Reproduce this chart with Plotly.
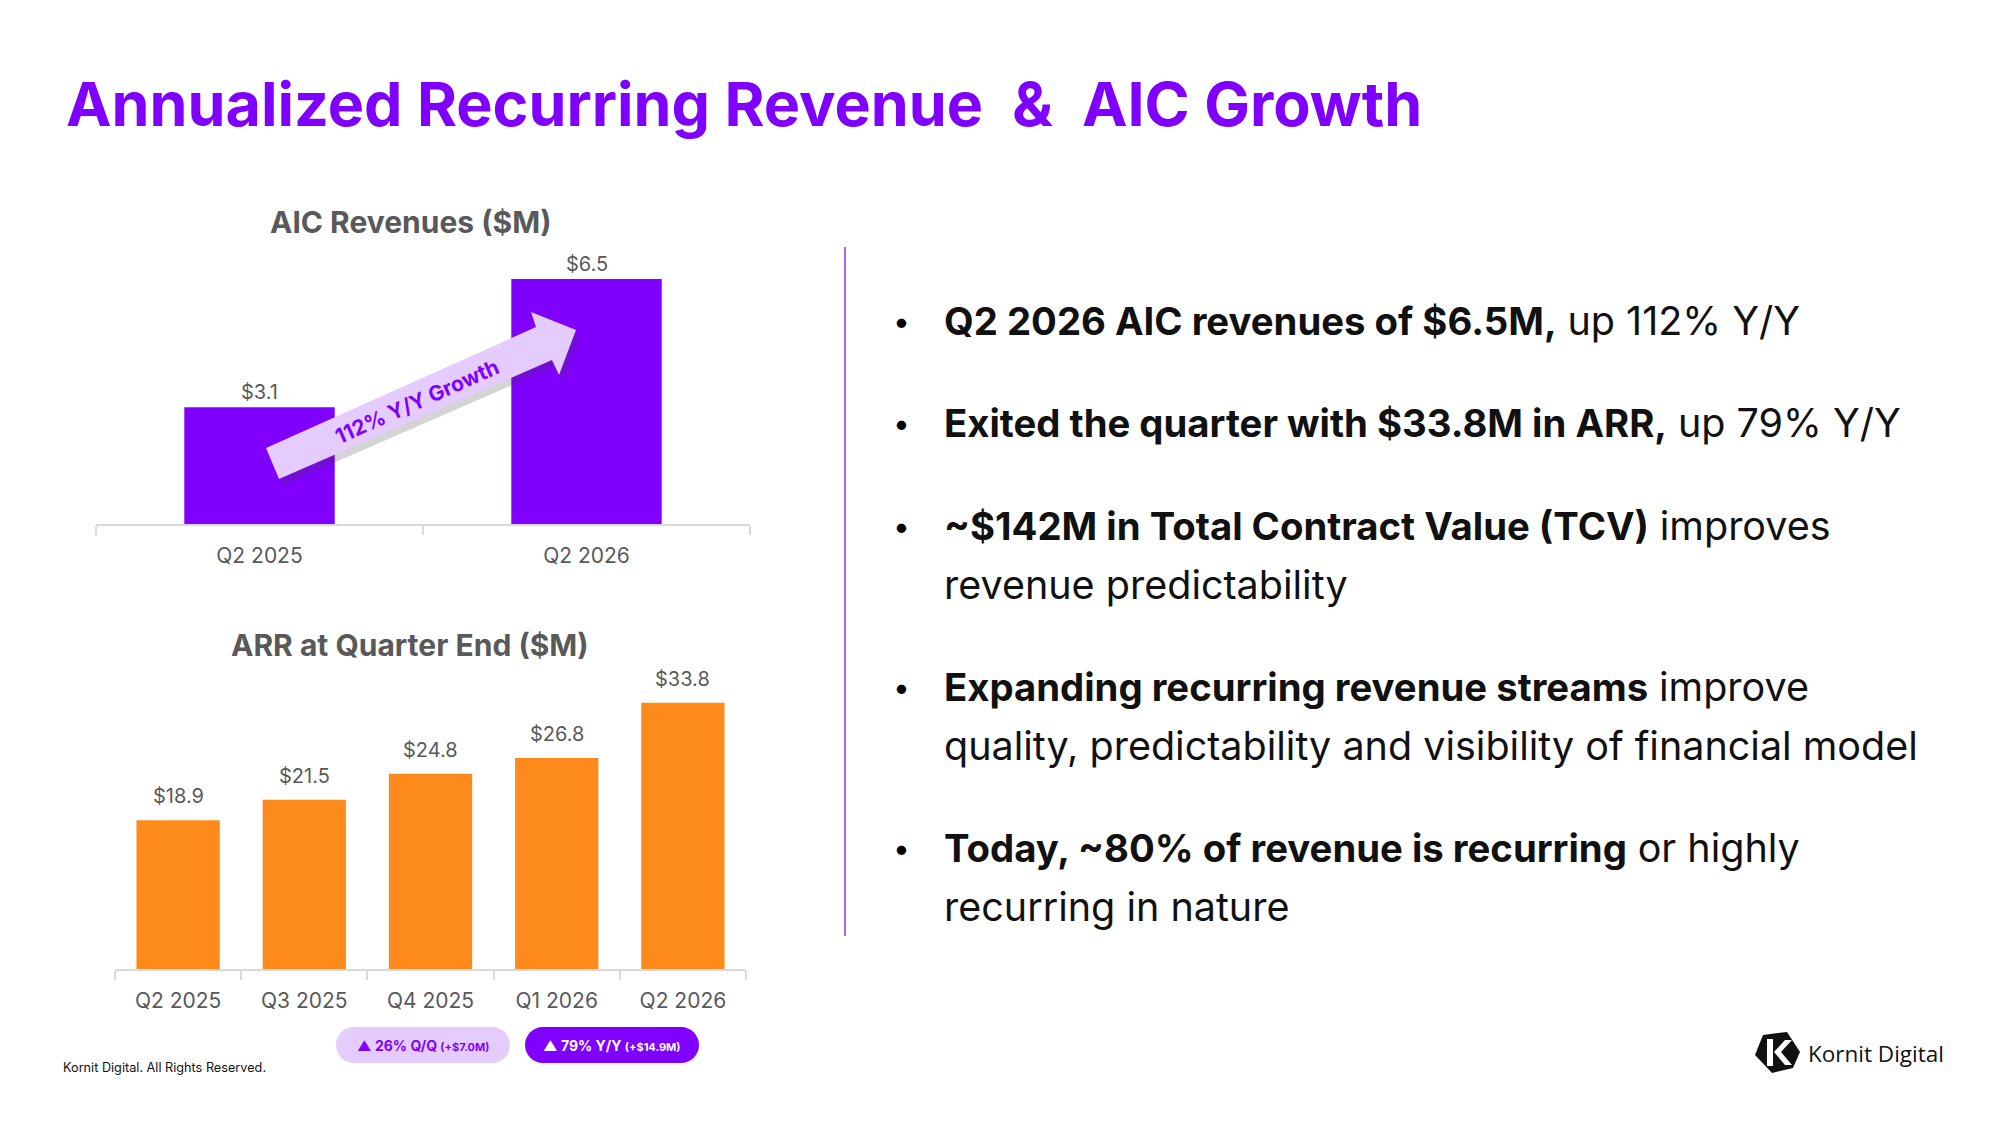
import plotly.graph_objects as go

W, H = 2000, 1125

# data
aic_quarters = ["Q2 2025", "Q2 2026"]
aic_revenue = [3.1, 6.5]

arr_quarters = ["Q2 2025", "Q3 2025", "Q4 2025", "Q1 2026", "Q2 2026"]
arr_values = [18.9, 21.5, 24.8, 26.8, 33.8]

# (bold part, regular part) per line
bullets = [
    [("Q2 2026 AIC revenues of $6.5M,", "up 112% Y/Y")],
    [("Exited the quarter with $33.8M in ARR,", "up 79% Y/Y")],
    [("~$142M in Total Contract Value (TCV)", "improves"), ("", "revenue predictability")],
    [("Expanding recurring revenue streams", "improve"),
     ("", "quality, predictability and visibility of financial model")],
    [("Today, ~80% of revenue is recurring", "or highly"), ("", "recurring in nature")],
]

pill_main = ["▲ 26% Q/Q", "▲ 79% Y/Y"]
pill_note = ["(+$7.0M)", "(+$14.9M)"]

PURPLE = "#8000FF"
LIGHT_PURPLE = "#E5CCFF"
ORANGE = "#FD8B1C"
GRAY = "#595959"
FONT = "Inter"


def px(x, y):
    # pixel position -> paper coords (margins are 0)
    return x / W, 1 - y / H


def poly_path(points):
    s = ""
    for i, (x, y) in enumerate(points):
        u, v = px(x, y)
        s += ("M" if i == 0 else "L") + f"{u:.5f},{v:.5f} "
    return s + "Z"


def pill_path(x0, y0, x1, y1):
    r = (y1 - y0) / 2
    k = 0.5523 * r
    pts = [
        ("M", [(x0 + r, y0)]),
        ("L", [(x1 - r, y0)]),
        ("C", [(x1 - r + k, y0), (x1, y0 + r - k), (x1, y0 + r)]),
        ("C", [(x1, y0 + r + k), (x1 - r + k, y1), (x1 - r, y1)]),
        ("L", [(x0 + r, y1)]),
        ("C", [(x0 + r - k, y1), (x0, y0 + r + k), (x0, y0 + r)]),
        ("C", [(x0, y0 + r - k), (x0 + r - k, y0), (x0 + r, y0)]),
    ]
    s = ""
    for cmd, ps in pts:
        s += cmd + " ".join("%.5f,%.5f" % px(x, y) for x, y in ps) + " "
    return s + "Z"


fig = go.Figure()

# AIC revenues bars
fig.add_trace(go.Bar(
    x=aic_quarters, y=aic_revenue,
    width=0.46,
    marker=dict(color=PURPLE, line=dict(width=0)),
    hoverinfo="skip",
    xaxis="x", yaxis="y",
))

# ARR bars
fig.add_trace(go.Bar(
    x=arr_quarters, y=arr_values,
    width=0.66,
    marker=dict(color=ORANGE, line=dict(width=0)),
    hoverinfo="skip",
    xaxis="x2", yaxis="y2",
))

cat_axis = dict(
    showline=True, linecolor="#D9D9D9", linewidth=2,
    ticks="outside", tickson="boundaries", ticklen=9,
    tickcolor="#D9D9D9", tickwidth=2, ticklabelstandoff=12,
    tickfont=dict(family=FONT, size=21, color=GRAY),
    showgrid=False, zeroline=False, fixedrange=True,
)

shapes = []
# divider
x0, y0 = px(845, 247)
x1, y1 = px(845, 936)
shapes.append(dict(type="line", xref="paper", yref="paper", x0=x0, y0=y0, x1=x1, y1=y1,
                   line=dict(color="#A66BF5", width=2)))

# growth arrow with drop shadow
arrow = [(266, 448), (536, 327), (531, 312), (576, 330), (559, 375), (552, 360), (279, 479)]
shadow = [(x + 4, y + 6) for x, y in arrow]
shapes.append(dict(type="path", xref="paper", yref="paper", path=poly_path(shadow),
                   fillcolor="rgba(60,60,60,0.22)", line=dict(width=0)))
shapes.append(dict(type="path", xref="paper", yref="paper", path=poly_path(arrow),
                   fillcolor=LIGHT_PURPLE, line=dict(width=0)))

# pills
shapes.append(dict(type="path", xref="paper", yref="paper", path=pill_path(336, 1027, 510, 1063),
                   fillcolor=LIGHT_PURPLE, line=dict(width=0)))
shapes.append(dict(type="path", xref="paper", yref="paper", path=pill_path(525, 1027, 699, 1063),
                   fillcolor=PURPLE, line=dict(width=0)))

# logo hexagon + k
hexagon = [(1763, 1035), (1787, 1032), (1800, 1052), (1793, 1068), (1772, 1073), (1755, 1055)]
shapes.append(dict(type="path", xref="paper", yref="paper", path=poly_path(hexagon),
                   fillcolor="#111111", line=dict(width=0)))
stem = [(1767, 1039), (1773, 1039), (1773, 1066), (1767, 1066)]
chevron = [(1774, 1052), (1785, 1040), (1792, 1040), (1781, 1052), (1792, 1065), (1785, 1065)]
for p in (stem, chevron):
    shapes.append(dict(type="path", xref="paper", yref="paper", path=poly_path(p),
                       fillcolor="white", line=dict(width=0)))

annotations = []


def note(x, y, text, size, color="black", xanchor="left", yanchor="middle", angle=0, family=FONT):
    u, v = px(x, y)
    annotations.append(dict(xref="paper", yref="paper", x=u, y=v, text=text, showarrow=False,
                            xanchor=xanchor, yanchor=yanchor, textangle=angle,
                            font=dict(family=family, size=size, color=color)))


# value labels above the bars
for xr, yr, cats, vals, shift in [("x", "y", aic_quarters, aic_revenue, 15),
                                  ("x2", "y2", arr_quarters, arr_values, 24)]:
    for c, v in zip(cats, vals):
        annotations.append(dict(xref=xr, yref=yr, x=c, y=v, text=f"${v}", showarrow=False,
                                yanchor="middle", yshift=shift,
                                font=dict(family=FONT, size=20, color=GRAY)))

# title
note(64, 104, "<b>Annualized Recurring Revenue  &  AIC Growth</b>", 61, PURPLE)

# chart titles
note(410, 222, "<b>AIC Revenues ($M)</b>", 30, GRAY, xanchor="center")
note(410, 645, "<b>ARR at Quarter End ($M)</b>", 30, GRAY, xanchor="center")

# arrow label
note(417, 402, "<b>112% Y/Y Growth</b>", 21, PURPLE, xanchor="center", angle=-24)

# bullets
line_y = [[321], [423], [526, 585], [687, 746], [848, 907]]
for lines, ys in zip(bullets, line_y):
    note(901, ys[0], "•", 30, "black", xanchor="center")
    for (bold, reg), y in zip(lines, ys):
        t = f"<span style='font-size:39.5px'>{reg}</span>"
        if bold:
            t = f"<b>{bold}</b> " + t
        note(942, y, t, 38.3, "#111111")

# pills text
for i, cx in enumerate([423, 612]):
    col = PURPLE if i == 0 else "white"
    note(cx, 1045, f"<b>{pill_main[i]} <span style='font-size:11px'>{pill_note[i]}</span></b>",
         14, col, xanchor="center")

# footer and logo text
note(61, 1067, "Kornit Digital. All Rights Reserved.", 12.7, "#111111")
note(1806, 1053, "Kornit Digital", 22.5, "#111111", family="Open Sans")

fig.update_layout(
    width=W, height=H,
    margin=dict(l=0, r=0, t=0, b=0),
    paper_bgcolor="white", plot_bgcolor="rgba(0,0,0,0)",
    showlegend=False,
    xaxis=dict(domain=[96 / W, 750 / W], anchor="y", **cat_axis),
    yaxis=dict(domain=[1 - 524 / H, 1 - 222.5 / H], range=[0, 8], visible=False, fixedrange=True),
    xaxis2=dict(domain=[115 / W, 746 / W], anchor="y2", **cat_axis),
    yaxis2=dict(domain=[1 - 969 / H, 1 - 654 / H], range=[0, 40], visible=False, fixedrange=True),
    shapes=shapes,
    annotations=annotations,
)

fig.write_html("out.html", post_script="document.body.style.margin='0';",
               config={"displayModeBar": False})
